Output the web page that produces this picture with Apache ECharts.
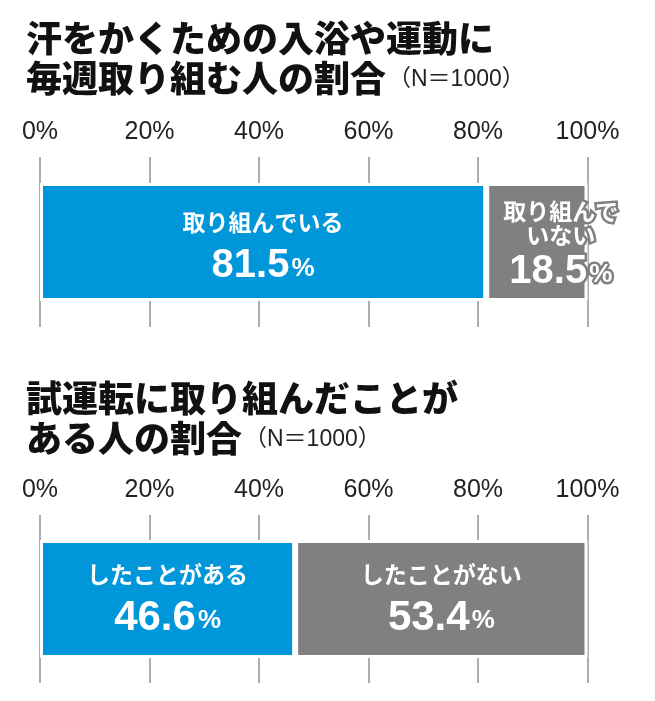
<!DOCTYPE html>
<html>
<head>
<meta charset="utf-8">
<script src="https://cdn.jsdelivr.net/npm/echarts@6/dist/echarts.min.js"></script>
<style>
html,body{margin:0;padding:0;background:#fff;}
#c{width:655px;height:701px;}
</style>
</head>
<body>
<div id="c"></div>
<script>
// ---- data ----
const categories = ['全体'];
const title1Lines = ['汗をかくための入浴や運動に', '毎週取り組む人の割合'];
const title2Lines = ['試運転に取り組んだことが', 'ある人の割合'];
const sampleNote = '（N＝1000）';
const chart1Names = ['取り組んでいる', '取り組んで\nいない'];
const chart1Values = [81.5, 18.5];
const chart2Names = ['したことがある', 'したことがない'];
const chart2Values = [46.6, 53.4];
const tickMin = 0, tickMax = 100, tickStep = 20;

// ---- styles ----
const BLUE = '#0096da';
const GRAY = '#808080';
const FONT = '"Liberation Sans", "Noto Sans CJK JP", sans-serif';
const JFONT = '"Noto Sans CJK JP", sans-serif';

const chart = echarts.init(document.getElementById('c'), null, {renderer: 'canvas'});

function titleText(lines) {
  return '{t|' + lines[0] + '}\n{t|' + lines[1] + '}{n|' + sampleNote + '}';
}
const titleRich = {
  t: {fontSize: 36, fontWeight: 900, fontFamily: JFONT, color: '#111', lineHeight: 40},
  n: {fontSize: 23, fontWeight: 'normal', fontFamily: FONT, color: '#222', lineHeight: 40, padding: [4, 0, 0, 2]}
};

function mainRich(sizeNum) {
  return {
    a: {fontSize: 23, fontWeight: 'bold', fontFamily: JFONT, color: '#fff', lineHeight: 38},
    b: {fontSize: sizeNum, fontWeight: 'bold', fontFamily: FONT, color: '#fff', lineHeight: 50},
    c: {fontSize: 26, fontWeight: 'bold', fontFamily: FONT, color: '#fff', lineHeight: 50, padding: [6, 0, 0, 2]}
  };
}
function outlinedRich() {
  const tb = {textBorderColor: GRAY, textBorderWidth: 5};
  return {
    a: Object.assign({fontSize: 23, fontWeight: 'bold', fontFamily: JFONT, color: '#fff', lineHeight: 24}, tb),
    b: Object.assign({fontSize: 40, fontWeight: 'bold', fontFamily: FONT, color: '#fff', lineHeight: 50}, tb),
    c: Object.assign({fontSize: 26, fontWeight: 'bold', fontFamily: FONT, color: '#fff', lineHeight: 50, padding: [6, 0, 0, 2]}, tb)
  };
}
function fmt(name, value) {
  const head = name.split('\n').map(l => '{a|' + l + '}').join('\n');
  return head + '\n{b|' + value.toFixed(1) + '}{c|%}';
}

function xAxis(gridIndex, margin) {
  return {
    type: 'value', gridIndex: gridIndex, position: 'top',
    min: tickMin, max: tickMax, interval: tickStep,
    axisLine: {show: false}, axisTick: {show: false},
    axisLabel: {formatter: '{value}%', fontSize: 25, fontFamily: FONT, color: '#222', margin: margin},
    splitLine: {show: true, showMinLine: true, showMaxLine: true, lineStyle: {color: '#adadad', width: 2}}
  };
}
function yAxis(gridIndex) {
  return {type: 'category', gridIndex: gridIndex, data: categories, show: false};
}
function barSeries(axisIdx, stack, name, value, color, label) {
  return {
    type: 'bar', name: name.replace('\n', ''), xAxisIndex: axisIdx, yAxisIndex: axisIdx, stack: stack,
    data: [value], barWidth: 118,
    itemStyle: {color: color, borderColor: '#fff', borderWidth: 3},
    label: label, silent: true
  };
}

const option = {
  animation: false,
  backgroundColor: '#fff',
  title: [
    {text: titleText(title1Lines), left: 26, top: 18, padding: 0, textStyle: {rich: titleRich}},
    {text: titleText(title2Lines), left: 26, top: 378, padding: 0, textStyle: {rich: titleRich}}
  ],
  grid: [
    {left: 40, width: 547.5, top: 157, height: 170},
    {left: 40, width: 547.5, top: 515, height: 168}
  ],
  xAxis: [xAxis(0, 12), xAxis(1, 12)],
  yAxis: [yAxis(0), yAxis(1)],
  series: [
    barSeries(0, 's1', chart1Names[0], chart1Values[0], BLUE, {
      show: true, position: 'inside', offset: [0, 5],
      formatter: p => fmt(chart1Names[0], p.value), rich: mainRich(40)
    }),
    barSeries(0, 's1', chart1Names[1], chart1Values[1], GRAY, {
      show: true, position: 'inside', offset: [24, 6], align: 'center',
      formatter: p => fmt(chart1Names[1], p.value), rich: outlinedRich()
    }),
    barSeries(1, 's2', chart2Names[0], chart2Values[0], BLUE, {
      show: true, position: 'inside', offset: [0, 0],
      formatter: p => fmt(chart2Names[0], p.value), rich: mainRich(42)
    }),
    barSeries(1, 's2', chart2Names[1], chart2Values[1], GRAY, {
      show: true, position: 'inside', offset: [0, 0],
      formatter: p => fmt(chart2Names[1], p.value), rich: mainRich(42)
    })
  ]
};
chart.setOption(option);
</script>
</body>
</html>
